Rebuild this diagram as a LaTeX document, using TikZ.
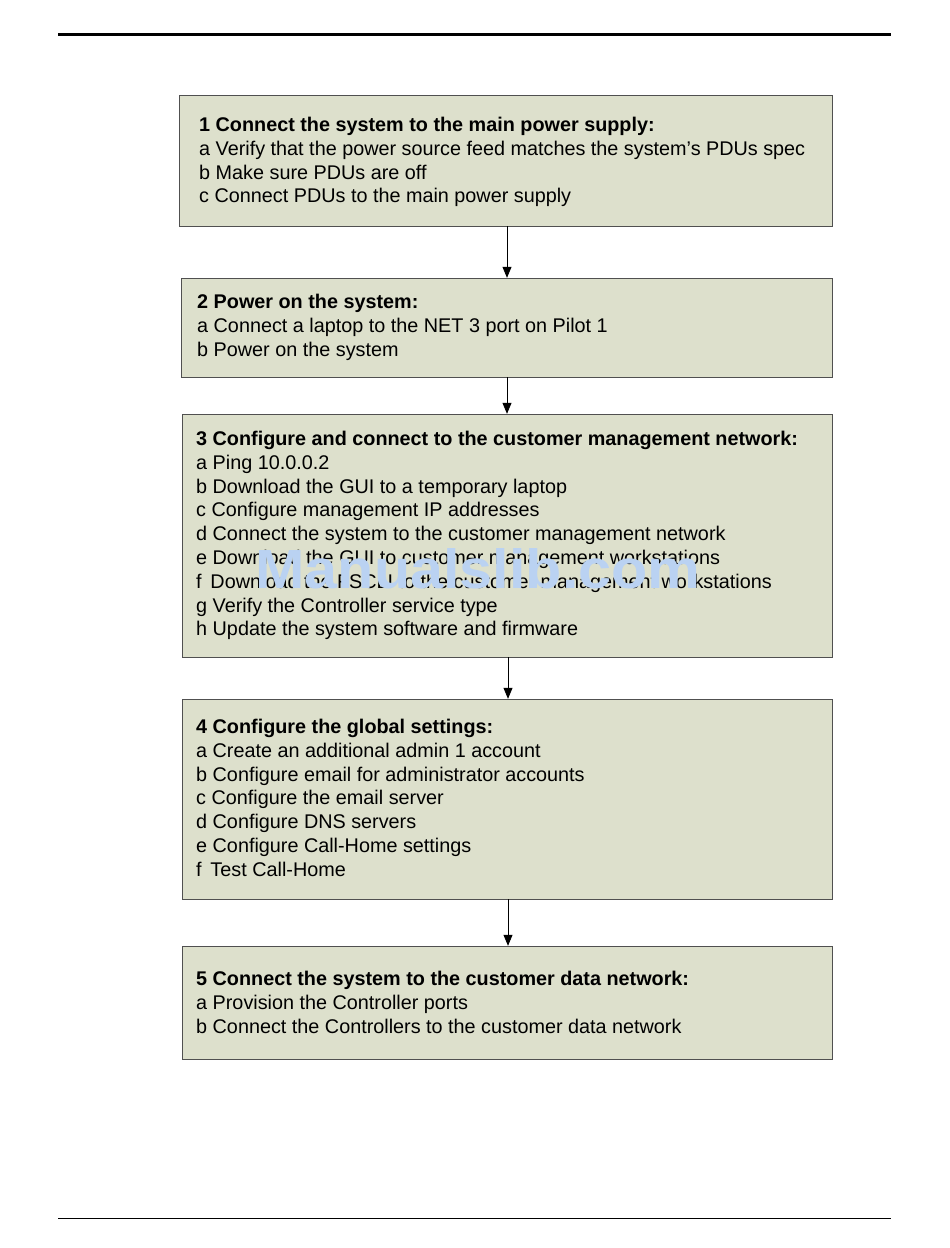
\documentclass[tikz,border=0pt]{standalone}
\usepackage{fontspec}
\setmainfont{Liberation Sans}
\usetikzlibrary{arrows.meta}
\definecolor{boxfill}{RGB}{221,224,204}
\definecolor{boxline}{RGB}{80,80,80}
\definecolor{wmark}{RGB}{186,210,242}
\tikzset{
  stepbox/.style={draw=boxline, fill=boxfill, line width=1pt, inner sep=0pt},
  steptext/.style={anchor=north west, align=left, inner sep=0pt,
    font=\fontsize{19.8}{23.8}\selectfont},
  arr/.style={draw=black, line width=0.8pt, -{Triangle[length=11pt,width=9pt]}}
}
\begin{document}
\begin{tikzpicture}[x=1pt,y=-1pt]
\useasboundingbox (0,0) rectangle (950,1248);
\fill[white] (0,0) rectangle (950,1248);
% rules
\draw[line width=3pt] (58,34) -- (891,34);
\draw[line width=1pt] (58,1218) -- (891,1218);
% boxes
\path[stepbox] (179,95) rectangle (832,226);
\node[inner sep=0pt] (b1) at (505.5,160.5) [minimum width=653pt, minimum height=131pt] {};
\path[stepbox] (181,278) rectangle (832,377);
\node[inner sep=0pt] (b2) at (506.5,327.5) [minimum width=651pt, minimum height=99pt] {};
\path[stepbox] (182,414) rectangle (832,657);
\node[inner sep=0pt] (b3) at (507,535.5) [minimum width=650pt, minimum height=243pt] {};
\path[stepbox] (182,699) rectangle (832,899);
\node[inner sep=0pt] (b4) at (507,799) [minimum width=650pt, minimum height=200pt] {};
\path[stepbox] (182,946) rectangle (832,1059);
\node[inner sep=0pt] (b5) at (507,1002.5) [minimum width=650pt, minimum height=113pt] {};
% texts
\node[steptext] (t1) at (199,117) {\textbf{1 Connect the system to the main power supply:}\\
a Verify that the power source feed matches the system's PDUs spec\\
b Make sure PDUs are off\\
c Connect PDUs to the main power supply};
\node[steptext] (t2) at (197,294) {\textbf{2 Power on the system:}\\
a Connect a laptop to the NET 3 port on Pilot 1\\
b Power on the system};
\node[steptext] (t3) at (196,431) {\textbf{3 Configure and connect to the customer management network:}\\
a Ping 10.0.0.2\\
b Download the GUI to a temporary laptop\\
c Configure management IP addresses\\
d Connect the system to the customer management network\\
e Download the GUI to customer management workstations\\
f\, Download the FSCLI to the customer management workstations\\
g Verify the Controller service type\\
h Update the system software and firmware};
\node[steptext] (t4) at (196,719) {\textbf{4 Configure the global settings:}\\
a Create an additional admin 1 account\\
b Configure email for administrator accounts\\
c Configure the email server\\
d Configure DNS servers\\
e Configure Call-Home settings\\
f\, Test Call-Home};
\node[steptext] (t5) at (196,971) {\textbf{5 Connect the system to the customer data network:}\\
a Provision the Controller ports\\
b Connect the Controllers to the customer data network};
% watermark
\node[inner sep=0pt, text=wmark] (wm) at (478,569) {\resizebox{445pt}{40pt}{\bfseries Manualslib.com}};
% connectors
\draw[arr] (b1.south -| 507,0) -- (b2.north -| 507,0);
\draw[arr] (b2.south -| 507,0) -- (b3.north -| 507,0);
\draw[arr] (b3.south -| 508,0) -- (b4.north -| 508,0);
\draw[arr] (b4.south -| 508,0) -- (b5.north -| 508,0);
\end{tikzpicture}
\end{document}
